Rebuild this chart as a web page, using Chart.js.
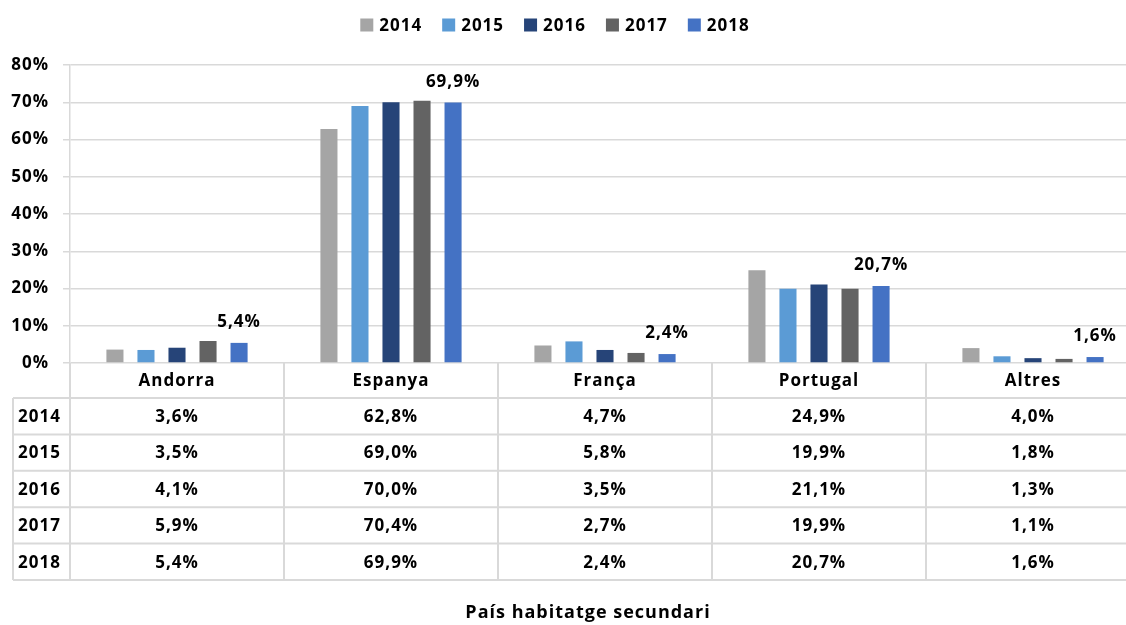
<!DOCTYPE html>
<html>
<head>
<meta charset="utf-8">
<script src="https://cdn.jsdelivr.net/npm/chart.js@4/dist/chart.umd.min.js"></script>
<style>
html,body{margin:0;padding:0;background:#fff;overflow:hidden;width:1126px;height:625px;}
#wrap{position:absolute;left:0;top:0;width:1140px;height:625px;}
</style>
</head>
<body>
<div id="wrap"><canvas id="c" width="1140" height="625"></canvas></div>
<script>
// ---- data ----
const categories = ['Andorra', 'Espanya', 'França', 'Portugal', 'Altres'];
const years = ['2014', '2015', '2016', '2017', '2018'];
const v2014 = [3.6, 62.8, 4.7, 24.9, 4.0];
const v2015 = [3.5, 69.0, 5.8, 19.9, 1.8];
const v2016 = [4.1, 70.0, 3.5, 21.1, 1.3];
const v2017 = [5.9, 70.4, 2.7, 19.9, 1.1];
const v2018 = [5.4, 69.9, 2.4, 20.7, 1.6];
const axisTitle = 'País habitatge secundari';
const yMax = 80, yStep = 10;

const seriesValues = [v2014, v2015, v2016, v2017, v2018];
const seriesColors = ['#a5a5a5', '#5b9bd5', '#264478', '#636363', '#4472c4'];
const labeledSeries = 4; // only the last series shows value labels

const FONT = '"Open Sans", Lato, sans-serif';
const FSIZE = 17;
const SPACING = '1px';
const fmt = v => v.toFixed(1).replace('.', ',') + '%';

const extras = {
  id: 'extras',
  beforeDraw(chart) {
    chart.ctx.letterSpacing = SPACING;
  },
  afterDraw(chart) {
    const ctx = chart.ctx;
    const ca = chart.chartArea;
    const xs = chart.scales.x;
    const n = categories.length;
    const cw = (ca.right - ca.left) / n;
    ctx.save();
    ctx.letterSpacing = SPACING;
    const font = 'bold ' + FSIZE + 'px ' + FONT;

    // value labels for last series
    const meta = chart.getDatasetMeta(labeledSeries);
    ctx.font = font;
    ctx.fillStyle = '#000';
    ctx.textAlign = 'center';
    ctx.textBaseline = 'alphabetic';
    meta.data.forEach((bar, i) => {
      ctx.fillText(fmt(seriesValues[labeledSeries][i]), bar.x, bar.y - 16);
    });

    // legend
    const box = 13, gapBT = 6, gapItem = 20;
    let total = 0;
    const widths = years.map(y => ctx.measureText(y).width);
    widths.forEach((w, i) => { total += box + gapBT + w + (i < widths.length - 1 ? gapItem : 0); });
    let lx = 555 - total / 2;
    const ly = 26;
    ctx.textAlign = 'left';
    ctx.textBaseline = 'middle';
    years.forEach((y, i) => {
      ctx.fillStyle = seriesColors[i];
      ctx.fillRect(lx, ly - box / 2 - 1, box, box);
      ctx.fillStyle = '#000';
      ctx.fillText(y, lx + box + gapBT, ly);
      lx += box + gapBT + widths[i] + gapItem;
    });

    // data table
    const top = ca.bottom;
    const headerH = 35;
    const rowH = 36.4;
    const tableLeft = 13;
    const bottom = top + headerH + rowH * years.length;
    ctx.strokeStyle = '#d9d9d9';
    ctx.lineWidth = 2;
    ctx.beginPath();
    ctx.moveTo(ca.left, top); ctx.lineTo(ca.left, bottom);
    for (let i = 1; i <= n; i++) {
      const x = Math.round(ca.left + cw * i);
      ctx.moveTo(x, top); ctx.lineTo(x, bottom);
    }
    ctx.moveTo(tableLeft, top + headerH); ctx.lineTo(tableLeft, bottom);
    for (let r = 0; r <= years.length; r++) {
      const y = top + headerH + rowH * r;
      ctx.moveTo(tableLeft, y); ctx.lineTo(chart.width, y);
    }
    ctx.stroke();

    ctx.fillStyle = '#000';
    ctx.font = font;
    ctx.textBaseline = 'middle';
    ctx.textAlign = 'center';
    categories.forEach((c, i) => {
      ctx.fillText(c, xs.getPixelForValue(i), top + headerH / 2 + 1);
    });
    years.forEach((y, r) => {
      const cy = top + headerH + rowH * r + rowH / 2 + 1;
      ctx.textAlign = 'left';
      ctx.fillText(y, tableLeft + 5, cy);
      ctx.textAlign = 'center';
      seriesValues[r].forEach((v, i) => {
        ctx.fillText(fmt(v), xs.getPixelForValue(i), cy);
      });
    });

    // axis title
    ctx.font = 'bold 18px ' + FONT;
    ctx.textAlign = 'center';
    ctx.textBaseline = 'alphabetic';
    ctx.fillText(axisTitle, 588, 618);
    ctx.restore();
  }
};

new Chart(document.getElementById('c'), {
  type: 'bar',
  data: {
    labels: categories,
    datasets: years.map((y, i) => ({
      label: y,
      data: seriesValues[i],
      backgroundColor: seriesColors[i],
      borderWidth: 0,
      categoryPercentage: 0.725,
      barPercentage: 0.55
    }))
  },
  options: {
    responsive: false,
    devicePixelRatio: 1,
    animation: false,
    layout: { padding: { top: 65, bottom: 262, left: 0, right: 0 } },
    plugins: { legend: { display: false }, tooltip: { enabled: false } },
    scales: {
      x: {
        grid: { display: false },
        border: { display: false },
        ticks: { display: false },
        afterFit(s) { s.height = 0; }
      },
      y: {
        min: 0, max: yMax,
        ticks: {
          stepSize: yStep,
          padding: 14,
          color: '#000',
          font: { family: FONT, size: FSIZE, weight: 'bold' },
          callback: v => v + '%'
        },
        grid: { color: '#d9d9d9', lineWidth: 1.5, tickLength: 7 },
        border: { color: '#d9d9d9', width: 1.5 },
        afterFit(s) { s.width = 70; }
      }
    }
  },
  plugins: [extras]
});
</script>
</body>
</html>
